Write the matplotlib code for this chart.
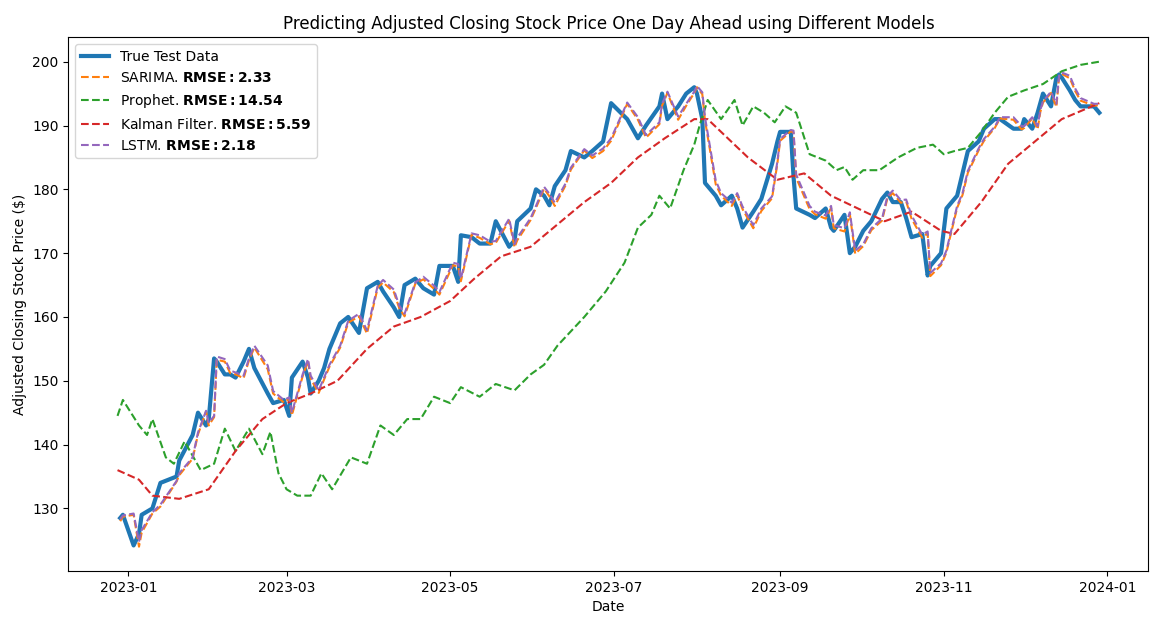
import pandas as pd
import matplotlib.pyplot as plt

# test period (trading days)
test_dates = ["2022-12-29", "2022-12-30", "2023-01-03", "2023-01-05", "2023-01-06", "2023-01-10",
              "2023-01-13", "2023-01-19", "2023-01-20", "2023-01-25", "2023-01-27", "2023-01-30",
              "2023-01-31", "2023-02-02", "2023-02-03", "2023-02-06", "2023-02-08", "2023-02-10",
              "2023-02-13", "2023-02-15", "2023-02-17", "2023-02-22", "2023-02-24", "2023-02-28",
              "2023-03-02", "2023-03-03", "2023-03-07", "2023-03-09", "2023-03-10", "2023-03-13",
              "2023-03-15", "2023-03-17", "2023-03-21", "2023-03-24", "2023-03-28", "2023-03-31",
              "2023-04-04", "2023-04-06", "2023-04-10", "2023-04-12", "2023-04-14", "2023-04-18",
              "2023-04-21", "2023-04-25", "2023-04-27", "2023-05-02", "2023-05-04", "2023-05-05",
              "2023-05-09", "2023-05-12", "2023-05-16", "2023-05-18", "2023-05-23", "2023-05-25",
              "2023-05-26", "2023-05-31", "2023-06-02", "2023-06-05", "2023-06-07", "2023-06-09",
              "2023-06-13", "2023-06-15", "2023-06-20", "2023-06-23", "2023-06-27", "2023-06-30",
              "2023-07-06", "2023-07-10", "2023-07-13", "2023-07-18", "2023-07-19", "2023-07-21",
              "2023-07-25", "2023-07-28", "2023-07-31", "2023-08-01", "2023-08-03", "2023-08-04",
              "2023-08-08", "2023-08-10", "2023-08-14", "2023-08-16", "2023-08-18", "2023-08-22",
              "2023-08-25", "2023-08-29", "2023-08-31", "2023-09-01", "2023-09-05", "2023-09-06",
              "2023-09-07", "2023-09-12", "2023-09-14", "2023-09-18", "2023-09-20", "2023-09-21",
              "2023-09-25", "2023-09-27", "2023-09-29", "2023-10-02", "2023-10-05", "2023-10-09",
              "2023-10-11", "2023-10-13", "2023-10-16", "2023-10-18", "2023-10-20", "2023-10-24",
              "2023-10-26", "2023-10-27", "2023-10-31", "2023-11-02", "2023-11-06", "2023-11-08",
              "2023-11-10", "2023-11-14", "2023-11-16", "2023-11-20", "2023-11-22", "2023-11-27",
              "2023-11-30", "2023-12-01", "2023-12-04", "2023-12-06", "2023-12-07", "2023-12-08",
              "2023-12-11", "2023-12-13", "2023-12-14", "2023-12-15", "2023-12-18", "2023-12-20",
              "2023-12-22", "2023-12-27", "2023-12-29"]

true_vals = [128.5, 129.0, 124.2, 126.0, 129.0, 130.0, 134.0, 135.0, 137.5, 141.5, 145.0, 143.0,
             144.0, 153.5, 153.0, 151.0, 151.0, 150.5, 153.0, 155.0, 152.0, 148.0, 146.5, 147.0,
             144.5, 150.5, 153.0, 150.5, 148.0, 150.0, 152.0, 155.0, 159.0, 160.0, 157.5, 164.5,
             165.5, 164.0, 161.5, 160.0, 165.0, 166.0, 164.5, 163.5, 168.0, 168.0, 165.5, 172.8,
             172.5, 171.5, 171.5, 175.0, 171.0, 172.0, 175.0, 177.0, 180.0, 179.0, 177.5, 180.5,
             183.0, 186.0, 185.0, 186.0, 187.5, 193.5, 191.0, 188.0, 190.0, 193.0, 195.0, 191.0,
             193.0, 195.0, 196.0, 195.0, 191.0, 181.0, 179.0, 177.5, 179.0, 177.0, 174.0, 176.5,
             178.5, 184.0, 187.5, 189.0, 189.0, 182.0, 177.0, 176.0, 175.5, 177.0, 174.0, 173.5,
             176.0, 170.0, 171.0, 173.5, 175.0, 178.5, 179.5, 178.0, 178.0, 175.5, 172.5, 173.0,
             166.5, 168.0, 170.0, 177.0, 179.0, 182.5, 186.0, 187.5, 189.5, 191.0, 191.0, 189.5,
             189.5, 191.0, 189.5, 192.0, 193.5, 195.0, 193.0, 197.5, 198.0, 197.5, 195.5, 194.0,
             193.0, 193.0, 192.0]

sarima_vals = [128.0, 128.7, 129.0, 124.0, 126.2, 129.2, 130.3, 134.2, 135.2, 137.8, 141.6, 145.2,
               143.0, 144.3, 153.3, 153.0, 151.2, 151.0, 150.4, 153.2, 155.2, 151.8, 148.0, 146.6,
               147.2, 144.6, 150.7, 153.1, 150.3, 148.1, 150.2, 152.2, 155.2, 159.1, 160.1, 157.4,
               164.6, 165.4, 163.9, 161.4, 160.1, 165.2, 165.9, 164.4, 163.5, 168.1, 167.9, 165.6,
               172.9, 172.4, 171.4, 171.6, 175.1, 170.9, 172.0, 175.2, 177.1, 180.1, 178.9, 177.4,
               180.6, 183.1, 186.1, 184.9, 186.0, 187.6, 193.4, 190.9, 188.1, 190.2, 193.1, 195.1,
               190.9, 193.1, 195.1, 196.0, 194.9, 190.8, 180.8, 179.0, 177.4, 179.1, 176.9, 173.9,
               176.6, 178.6, 184.1, 187.6, 189.1, 188.9, 181.8, 176.9, 176.1, 175.4, 177.1, 173.9,
               173.4, 176.1, 169.9, 171.1, 173.6, 175.1, 178.6, 179.4, 177.9, 178.1, 175.4, 172.4,
               173.1, 166.4, 168.1, 170.1, 177.1, 179.1, 182.6, 186.1, 187.6, 189.6, 191.1, 190.9,
               189.4, 189.6, 191.1, 189.4, 192.1, 193.6, 195.1, 192.9, 197.6, 198.1, 197.4, 195.4,
               193.9, 193.1, 193.2]

lstm_vals = [128.3, 128.9, 129.2, 124.8, 126.6, 129.4, 130.6, 134.3, 135.5, 138.0, 141.9, 145.3,
             143.4, 144.5, 153.8, 153.4, 151.6, 151.3, 150.8, 153.5, 155.5, 152.4, 148.4, 147.0,
             147.4, 145.0, 151.0, 153.4, 150.8, 148.5, 150.5, 152.5, 155.5, 159.4, 160.5, 157.9,
             164.9, 165.8, 164.3, 161.8, 160.5, 165.4, 166.3, 164.9, 163.9, 168.5, 168.3, 166.0,
             173.1, 172.8, 171.8, 171.9, 175.4, 171.4, 172.4, 175.5, 177.4, 180.4, 179.3, 177.9,
             180.9, 183.4, 186.3, 185.3, 186.4, 188.0, 193.6, 191.3, 188.5, 190.5, 193.4, 195.3,
             191.4, 193.4, 195.3, 196.2, 195.2, 191.3, 181.4, 179.4, 177.9, 179.4, 177.3, 174.4,
             177.0, 178.9, 184.4, 187.9, 189.3, 189.2, 182.3, 177.4, 176.5, 175.9, 177.4, 174.4,
             173.9, 176.4, 170.4, 171.4, 173.9, 175.4, 178.9, 179.8, 178.3, 178.4, 175.9, 172.9,
             173.4, 166.9, 168.4, 170.4, 177.4, 179.4, 182.9, 186.4, 187.9, 189.8, 191.3, 191.3,
             189.9, 189.9, 191.3, 189.9, 192.4, 193.8, 195.3, 193.4, 197.8, 198.3, 197.8, 195.8,
             194.3, 193.4, 193.4]

kalman_dates = ["2022-12-28", "2023-01-05", "2023-01-10", "2023-01-20", "2023-01-31", "2023-02-10",
                "2023-02-20", "2023-03-01", "2023-03-10", "2023-03-20", "2023-03-31", "2023-04-10",
                "2023-04-20", "2023-05-01", "2023-05-10", "2023-05-20", "2023-05-31", "2023-06-10",
                "2023-06-20", "2023-06-30", "2023-07-10", "2023-07-20", "2023-07-31", "2023-08-05",
                "2023-08-10", "2023-08-20", "2023-08-31", "2023-09-10", "2023-09-20", "2023-09-30",
                "2023-10-10", "2023-10-20", "2023-10-31", "2023-11-05", "2023-11-15", "2023-11-25",
                "2023-12-05", "2023-12-15", "2023-12-29"]
kalman_vals = [136.0, 134.5, 132.0, 131.5, 133.0, 139.0, 144.0, 146.5, 148.0, 150.0, 155.0, 158.5,
               160.0, 162.5, 166.0, 169.5, 171.0, 174.5, 178.0, 181.0, 185.0, 188.0, 191.0, 191.0,
               189.0, 185.0, 181.5, 182.5, 179.0, 177.0, 175.0, 176.5, 173.5, 173.0, 178.0, 184.0,
               187.5, 191.0, 193.5]

prophet_dates = ["2022-12-28", "2022-12-30", "2023-01-05", "2023-01-08", "2023-01-10", "2023-01-15",
                 "2023-01-18", "2023-01-22", "2023-01-28", "2023-02-02", "2023-02-06", "2023-02-10",
                 "2023-02-15", "2023-02-20", "2023-02-23", "2023-02-26", "2023-03-01", "2023-03-05",
                 "2023-03-10", "2023-03-14", "2023-03-18", "2023-03-25", "2023-03-31", "2023-04-05",
                 "2023-04-10", "2023-04-15", "2023-04-20", "2023-04-25", "2023-05-01", "2023-05-05",
                 "2023-05-12", "2023-05-18", "2023-05-25", "2023-05-31", "2023-06-05", "2023-06-10",
                 "2023-06-20", "2023-06-28", "2023-07-05", "2023-07-10", "2023-07-15", "2023-07-18",
                 "2023-07-22", "2023-07-27", "2023-07-31", "2023-08-02", "2023-08-05", "2023-08-10",
                 "2023-08-15", "2023-08-18", "2023-08-22", "2023-08-26", "2023-08-30", "2023-09-03",
                 "2023-09-07", "2023-09-12", "2023-09-18", "2023-09-22", "2023-09-25", "2023-09-28",
                 "2023-10-02", "2023-10-08", "2023-10-15", "2023-10-22", "2023-10-28", "2023-11-01",
                 "2023-11-05", "2023-11-10", "2023-11-15", "2023-11-20", "2023-11-25", "2023-12-01",
                 "2023-12-08", "2023-12-15", "2023-12-22", "2023-12-29"]
prophet_vals = [144.5, 147.0, 143.0, 141.5, 144.0, 138.0, 137.0, 140.5, 136.0, 137.0, 142.5, 139.0,
                142.5, 138.5, 142.0, 135.5, 133.0, 132.0, 132.0, 135.5, 133.0, 138.0, 137.0, 143.0,
                141.5, 144.0, 144.0, 147.5, 146.5, 149.0, 147.5, 149.5, 148.5, 151.0, 152.5, 155.5,
                160.0, 164.0, 168.5, 174.0, 176.0, 179.0, 177.0, 183.0, 187.0, 190.0, 194.0, 191.0,
                194.0, 190.0, 193.0, 192.0, 190.5, 193.0, 192.0, 185.5, 184.5, 183.0, 183.5, 181.5,
                183.0, 183.0, 185.0, 186.5, 187.0, 185.5, 186.0, 186.5, 189.0, 192.0, 194.5, 195.5,
                196.5, 198.5, 199.5, 200.0]

rmse = {"SARIMA": 2.33, "Prophet": 14.54, "Kalman Filter": 5.59, "LSTM": 2.18}


def bold_label(name):
    return name + r". $\bf{RMSE: " + f"{rmse[name]:.2f}" + "}$"


fig, ax = plt.subplots(figsize=(11.6, 6.24), dpi=100)
ax.plot(pd.to_datetime(test_dates), true_vals, color="tab:blue", linewidth=3, label="True Test Data")
ax.plot(pd.to_datetime(test_dates), sarima_vals, "--", color="tab:orange", label=bold_label("SARIMA"))
ax.plot(pd.to_datetime(prophet_dates), prophet_vals, "--", color="tab:green", label=bold_label("Prophet"))
ax.plot(pd.to_datetime(kalman_dates), kalman_vals, "--", color="tab:red", label=bold_label("Kalman Filter"))
ax.plot(pd.to_datetime(test_dates), lstm_vals, "--", color="tab:purple", label=bold_label("LSTM"))

ax.set_title("Predicting Adjusted Closing Stock Price One Day Ahead using Different Models")
ax.set_xlabel("Date")
ax.set_ylabel("Adjusted Closing Stock Price ($)")
ax.legend(loc="upper left")
fig.subplots_adjust(left=0.059, right=0.99, top=0.94, bottom=0.085)
fig.savefig("out.png")
